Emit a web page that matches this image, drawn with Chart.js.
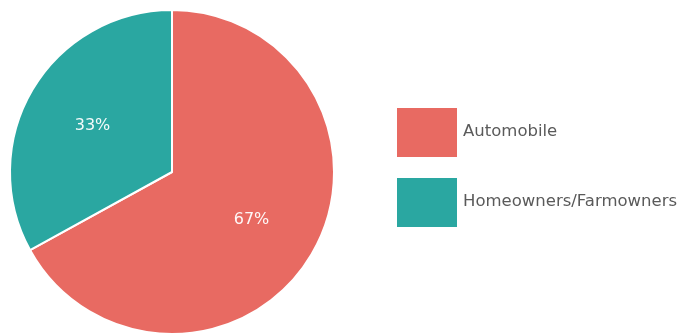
<!DOCTYPE html>
<html>
<head>
<meta charset="utf-8">
<script src="https://cdn.jsdelivr.net/npm/chart.js@4/dist/chart.umd.min.js"></script>
<style>
  html, body { margin: 0; padding: 0; background: #fff; }
  #wrap { position: relative; width: 683px; height: 336px; }
</style>
</head>
<body>
<div id="wrap"><canvas id="pie" width="683" height="336"></canvas></div>
<script>
// 保険種目別の構成比
const categories = ['Automobile', 'Homeowners/Farmowners'];
const shares = [67, 33];
const colors = ['#E86A62', '#2AA7A1'];

const FONT = '"DejaVu Sans", sans-serif';

// 扇形の中に%を描く
const sliceLabels = {
  id: 'sliceLabels',
  afterDatasetsDraw(chart) {
    const ctx = chart.ctx;
    const meta = chart.getDatasetMeta(0);
    ctx.save();
    ctx.font = '16px ' + FONT;
    ctx.fillStyle = 'rgba(255,255,255,0.95)';
    ctx.textAlign = 'center';
    ctx.textBaseline = 'middle';
    meta.data.forEach((arc, i) => {
      const mid = (arc.startAngle + arc.endAngle) / 2;
      const r = arc.outerRadius * 0.57;
      ctx.fillText(shares[i] + '%', arc.x + Math.cos(mid) * r, arc.y + Math.sin(mid) * r + 1);
    });
    ctx.restore();
  }
};

// 右側の凡例（大きめの四角）
const boxLegend = {
  id: 'boxLegend',
  afterDraw(chart) {
    const ctx = chart.ctx;
    ctx.save();
    ctx.font = '16.5px ' + FONT;
    ctx.textBaseline = 'middle';
    categories.forEach((name, i) => {
      const y = 108 + i * 70;
      ctx.fillStyle = colors[i];
      ctx.fillRect(397, y, 60, 49);
      ctx.fillStyle = '#5a5a5a';
      ctx.fillText(name, 463, y + 24, 219);
    });
    ctx.restore();
  }
};

new Chart(document.getElementById('pie'), {
  type: 'pie',
  data: {
    labels: categories,
    datasets: [{
      data: shares,
      backgroundColor: colors,
      borderColor: '#fff',
      borderWidth: 2
    }]
  },
  options: {
    responsive: false,
    animation: false,
    layout: { padding: { top: 9, bottom: 1, left: 9, right: 348 } },
    plugins: { legend: { display: false }, tooltip: { enabled: false } }
  },
  plugins: [sliceLabels, boxLegend]
});
</script>
</body>
</html>
